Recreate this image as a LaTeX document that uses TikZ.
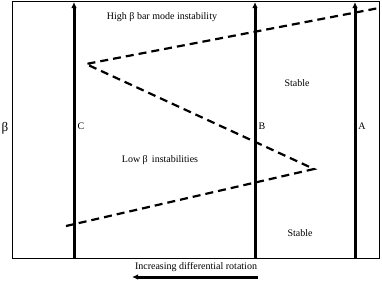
\documentclass[tikz,border=0pt]{standalone}
\usepackage{fontspec}
\setmainfont{Liberation Serif}
\usetikzlibrary{arrows.meta}
\begin{document}
\begin{tikzpicture}[x=1pt,y=-1pt,
  axisline/.style={line width=3pt,-{Latex[length=6pt,width=5.5pt]}},
  bound/.style={line width=2.2pt,dash pattern=on 8pt off 5pt},
  lbl/.style={font=\fontsize{10}{11}\selectfont,inner sep=0pt}]
\useasboundingbox (0,0) rectangle (382,282);
\draw[line width=0.8pt] (12,1) rectangle (379,258);
% vertical tracks
\coordinate (cb) at (74,258); \coordinate (ct) at (74,2);
\coordinate (bb) at (255,258); \coordinate (bt) at (255,2);
\coordinate (ab) at (355,258); \coordinate (at2) at (355,2);
\draw[axisline] (cb) -- (ct);
\draw[axisline] (bb) -- (bt);
\draw[axisline] (ab) -- (at2);
% dashed boundary
\coordinate (p1) at (66,226);
\coordinate (p2) at (314,169);
\coordinate (p3) at (86,64);
\coordinate (p4) at (379,8);
\draw[bound] (p1) -- (p2) -- (p3) -- (p4);
% labels
\node[lbl] (high) at (162,17) {High β bar mode instability};
\node[lbl] (stab1) at (297,83) {Stable};
\node[lbl] (stab2) at (300,233) {Stable};
\node[lbl] (low) at (160,160) {Low β\, instabilities};
\node[lbl] (lc) at (81,126) {C};
\node[lbl] (lb) at (262,126) {B};
\node[lbl] (la) at (362,126) {A};
\node[inner sep=0pt,font=\fontsize{13}{13}\selectfont] (beta) at (5,128) {β};
\node[lbl] (incr) at (196,267) {Increasing differential rotation};
\coordinate (ar1) at (258,277); \coordinate (ar0) at (132,277);
\draw[line width=3pt,-{Latex[length=6pt,width=5.5pt]}] (ar1) -- (ar0);
\end{tikzpicture}
\end{document}
